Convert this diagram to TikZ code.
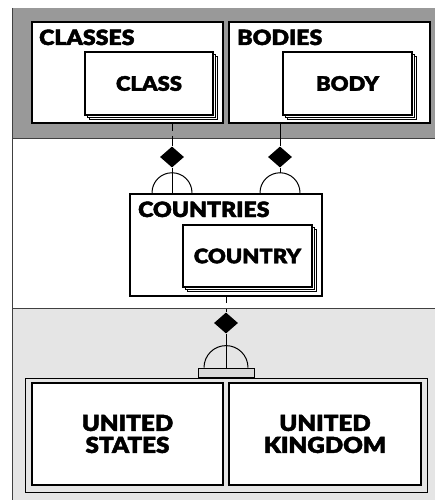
\documentclass[tikz,border=0pt]{standalone}
\usepackage{fontspec}
\newfontfamily\heavy{Lato-Black}[Extension=.ttf, FakeBold=2, FakeStretch=1.1]
\usetikzlibrary{positioning}
\usetikzlibrary{shapes.geometric}
\usetikzlibrary{shadows}

\definecolor{bandgray}{HTML}{999999}
\definecolor{bandlight}{HTML}{E5E5E5}

\tikzset{
  group/.style={draw, line width=2.5pt, fill=white, inner sep=0pt},
  entity/.style={draw, line width=2.5pt, fill=white, inner sep=0pt,
    double copy shadow={shadow xshift=2.2pt, shadow yshift=-2.2pt, draw, fill=white, line width=0.8pt},
    font=\heavy\fontsize{20}{20}\selectfont},
  title/.style={anchor=base west, inner sep=0pt, font=\heavy\fontsize{21}{21}\selectfont},
  agg/.style={diamond, fill=black, inner sep=0pt, minimum width=24pt, minimum height=21pt},
  link/.style={line width=1pt},
}

\begin{document}
\begin{tikzpicture}[x=1pt, y=-1pt]
\useasboundingbox (0,0) rectangle (435,500);

% bands
\fill[bandgray] (12,8) rectangle (435,138);
\fill[bandlight] (12,308) rectangle (435,500);
\draw[line width=1pt, black!75] (12,8) -- (12,500);
\draw[line width=1pt, black!75] (12,138) -- (435,138);
\draw[line width=1pt, black!75] (12,308) -- (435,308);

% top groups
\node[group, minimum width=191pt, minimum height=101pt] (classes) at (127.5,72.5) {};
\node[title] at (39,45) {CLASSES};
\node[entity, minimum width=128pt, minimum height=63pt] (class) at (149,83.5) {CLASS};

\node[group, minimum width=201pt, minimum height=101pt] (bodies) at (329.5,72.5) {};
\node[title] at (237,45) {BODIES};
\node[entity, minimum width=129pt, minimum height=63pt] (body) at (347.5,83.5) {BODY};

% middle group
\node[group, minimum width=192pt, minimum height=102pt] (countries) at (226,245) {};
\node[title] at (138,217) {COUNTRIES};
\node[entity, minimum width=129pt, minimum height=62pt] (country) at (247.5,256) {COUNTRY};

% bottom group
\node[draw, line width=0.8pt, fill=bandlight, minimum width=402pt, minimum height=114pt] (nations) at (226,435) {};
\node[group, minimum width=191pt, minimum height=102pt, align=center,
  font=\heavy\fontsize{22}{22}\selectfont] (us) at (127.5,434) {UNITED\\STATES};
\node[group, minimum width=192pt, minimum height=102pt, align=center,
  font=\heavy\fontsize{22}{22}\selectfont] (uk) at (325,434) {UNITED\\KINGDOM};
\node[draw, line width=0.8pt, fill=black!15, inner sep=0pt, minimum width=56pt, minimum height=9pt] (tab) at (226,372.5) {};

% aggregation diamonds
\node[agg] (d1) at (172,157) {};
\node[agg] (d2) at (280,157) {};
\node[agg] (d3) at (226,323) {};

% half circles
\draw[link] (countries.north -| d1) ++(20pt,0pt) arc (0:180:20pt);
\draw[link] (countries.north -| d2) ++(20pt,0pt) arc (0:180:20pt);
\draw[link] (tab.north) ++(22pt,0pt) arc (0:180:22pt);
\coordinate (a2) at ([yshift=20pt]countries.north -| d2);

% connectors
\draw[link, dash pattern=on 7pt off 5pt on 40pt] (classes.south -| d1) -- (d1.north);
\draw[link] (d1.south) -- (countries.north -| d1);
\draw[link] (bodies.south -| d2) -- (d2.north);
\draw[link] (d2.south) -- (a2);
\draw[link, dash pattern=on 6pt off 6pt on 40pt] (countries.south) -- (d3.north);
\draw[link] (d3.south) -- (tab.north);
\end{tikzpicture}
\end{document}
